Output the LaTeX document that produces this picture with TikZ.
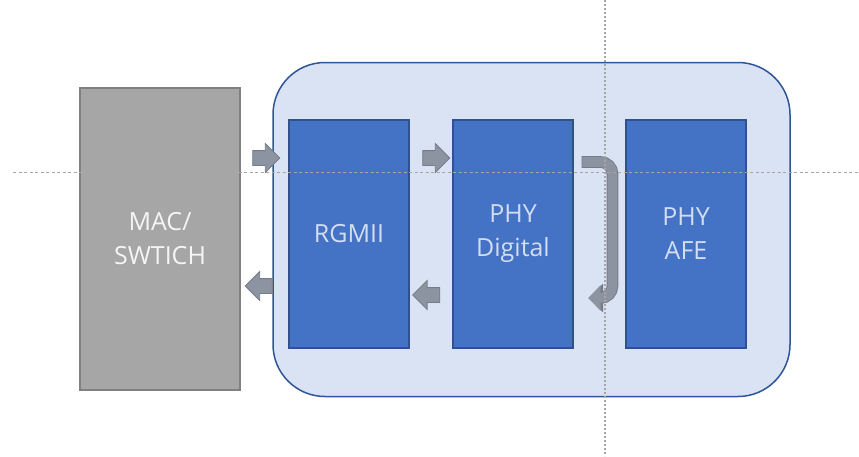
\documentclass[tikz,border=0pt]{standalone}
\usepackage{fontspec}
\setsansfont{Open Sans}
\usetikzlibrary{shapes.arrows,arrows.meta}
\definecolor{macgray}{HTML}{A6A6A6}
\definecolor{macline}{HTML}{808080}
\definecolor{boxfill}{HTML}{DAE3F3}
\definecolor{boxline}{HTML}{2F5597}
\definecolor{blkfill}{HTML}{4472C4}
\definecolor{blkline}{HTML}{2F528F}
\definecolor{blktext}{HTML}{D3DDF1}
\definecolor{arrfill}{HTML}{8C94A1}
\definecolor{arrline}{HTML}{757C88}
\definecolor{guide}{HTML}{A6A6A6}
\begin{document}
\begin{tikzpicture}
          [x=1pt,y=-1pt,font=\sffamily\fontsize{25}{34}\selectfont,
           blk/.style={rectangle, draw=blkline, fill=blkfill, line width=1.2pt, text=blktext, align=center, minimum width=120pt, minimum height=228pt},
           arr/.style={single arrow, draw=arrline, fill=arrfill, line width=0.8pt, inner xsep=0pt, inner ysep=7pt, minimum height=27pt, single arrow head extend=7pt, single arrow tip angle=90}]
        \tikzset{
          guideline/.style={draw=guide, line width=0.8pt}
        }
          \useasboundingbox (0,0) rectangle (859,456);
          \node [rectangle, draw=macline, fill=macgray, line width=1.5pt, text=white!92!gray, align=center, minimum width=160pt, minimum height=302pt] (mac) at (160,239) {MAC/\\SWTICH};
          \node [rectangle, rounded corners=52pt, draw=boxline, fill=boxfill, line width=1.5pt, minimum width=517pt, minimum height=334pt] (box) at (531.5,229.5) {};
          \node [blk] (rgmii) at (349,234) {RGMII};
          \node [blk] (digital) at (513,234) {PHY\\Digital};
          \node [blk] (afe) at (686,234) {PHY\\AFE};
          % block arrows
          \node [arr] (tx1) at (262.5,158) {};
          \node [arr] (tx2) at (432.5,158) {};
          \node [arr, shape border rotate=180] (rx1) at (262.5,286) {};
          \node [arr, shape border rotate=180] (rx2) at (430,295) {};
          \coordinate (ustart) at ([xshift=8pt]digital.east |- 0,162);
          \coordinate (uend) at (589,298);
          \draw [arrline, line width=11.6pt, rounded corners=12pt, -{Triangle[length=14pt,width=28pt]}] (ustart) -| (612.5,298) -- (uend);
          \draw [arrfill, line width=9.6pt, rounded corners=12pt, -{Triangle[length=12.5pt,width=25pt]}] ([xshift=0.8pt]ustart) -| (612.5,298) -- ([xshift=-0.8pt]uend);
          % guides
          \draw [guideline, dash pattern=on 3pt off 2.5pt] (13,172.5) -- (859,172.5);
          \draw [guideline, line width=1.3pt, dash pattern=on 2pt off 2pt] (605,0) -- (605,456);
        \end{tikzpicture}
\end{document}
